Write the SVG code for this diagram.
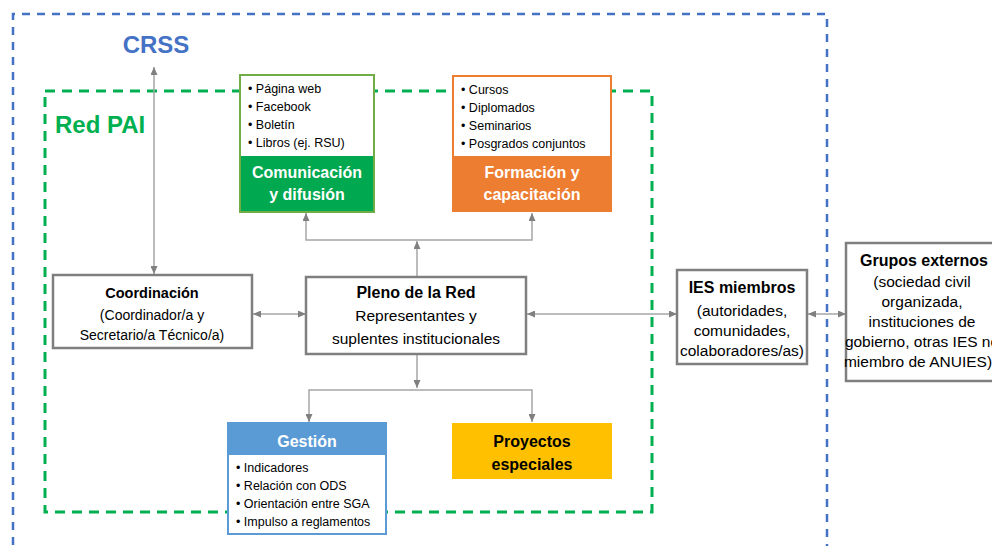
<svg xmlns="http://www.w3.org/2000/svg" width="992" height="546" viewBox="0 0 992 546">
<defs>
<marker id="ah" viewBox="0 0 8 7" refX="8" refY="3.5" markerWidth="8" markerHeight="7" markerUnits="userSpaceOnUse" orient="auto-start-reverse">
<path d="M0,0 L8,3.5 L0,7 z" fill="#808080"/>
</marker>
<style>
text{font-family:"Liberation Sans",Arial,sans-serif;}
.b{font-weight:bold;}
.c{text-anchor:middle;}
.li{font-size:12.5px;fill:#000;}
.gray{fill:#fff;stroke:#7F7F7F;stroke-width:2.5;}
.con{fill:none;stroke:#A6A6A6;stroke-width:1.5;}
.bi{marker-start:url(#ah);marker-end:url(#ah);}
.one{marker-end:url(#ah);}
</style>
</defs>
<rect width="992" height="546" fill="#fff"/>
<g id="crss-frame">
<path d="M13 560 V14 H827 V560" fill="none" stroke="#4472C4" stroke-width="2.5" stroke-dasharray="8,7"/>
<text x="156" y="53" class="b c" font-size="24" fill="#4472C4">CRSS</text>
</g>
<g id="redpai-frame">
<rect x="45" y="91" width="607" height="421" fill="none" stroke="#00B050" stroke-width="3" stroke-dasharray="10,7"/>
<text x="55" y="133" class="b" font-size="24" fill="#00B050">Red PAI</text>
</g>
<g id="connectors">
<line x1="154" y1="67" x2="154" y2="274" class="con bi"/>
<line x1="253" y1="314" x2="306" y2="314" class="con bi"/>
<line x1="527" y1="314" x2="677" y2="314" class="con bi"/>
<line x1="808" y1="314" x2="846" y2="314" class="con bi"/>
<line x1="417" y1="277" x2="417" y2="241" class="con one"/>
<path d="M306 213 V240 H532 V213" class="con bi"/>
<line x1="417" y1="354" x2="417" y2="388" class="con one"/>
<path d="M309 422 V390 H532 V422" class="con bi"/>
</g>
<g id="comunicacion">
<rect x="240" y="75" width="134" height="137" fill="#fff" stroke="#70AD47" stroke-width="2"/>
<rect x="241" y="156" width="132" height="55" fill="#00A84F"/>
<text x="248" y="93" class="li">• Página web</text>
<text x="248" y="111" class="li">• Facebook</text>
<text x="248" y="129" class="li">• Boletín</text>
<text x="248" y="147" class="li">• Libros (ej. RSU)</text>
<text x="307" y="178" class="b c" font-size="16" fill="#fff">Comunicación</text>
<text x="307" y="200" class="b c" font-size="16" fill="#fff">y difusión</text>
</g>
<g id="formacion">
<rect x="453" y="76" width="158" height="135" fill="#fff" stroke="#ED7D31" stroke-width="2"/>
<rect x="453" y="156" width="158" height="55" fill="#ED7D31"/>
<text x="461" y="94" class="li">• Cursos</text>
<text x="461" y="112" class="li">• Diplomados</text>
<text x="461" y="130" class="li">• Seminarios</text>
<text x="461" y="148" class="li">• Posgrados conjuntos</text>
<text x="532" y="178" class="b c" font-size="16" fill="#fff">Formación y</text>
<text x="532" y="200" class="b c" font-size="16" fill="#fff">capacitación</text>
</g>
<g id="coordinacion">
<rect x="53" y="275" width="199" height="73" class="gray"/>
<text x="152" y="298" class="b c" font-size="14.5">Coordinación</text>
<text x="152" y="320" class="c" font-size="14">(Coordinador/a y</text>
<text x="152" y="340" class="c" font-size="14">Secretario/a Técnico/a)</text>
</g>
<g id="pleno">
<rect x="306" y="277" width="220" height="77" class="gray"/>
<text x="416" y="298" class="b c" font-size="16">Pleno de la Red</text>
<text x="416" y="321" class="c" font-size="15.5">Representantes y</text>
<text x="416" y="344" class="c" font-size="15.5">suplentes institucionales</text>
</g>
<g id="ies">
<rect x="677" y="270" width="130" height="94" class="gray"/>
<text x="742" y="293" class="b c" font-size="16">IES miembros</text>
<text x="742" y="316" class="c" font-size="15.5">(autoridades,</text>
<text x="742" y="336" class="c" font-size="15.5">comunidades,</text>
<text x="742" y="356" class="c" font-size="15.5">colaboradores/as)</text>
</g>
<g id="grupos">
<rect x="846" y="243" width="162" height="138" class="gray"/>
<text x="924" y="266" class="b c" font-size="16">Grupos externos</text>
<text x="922" y="287" class="c" font-size="15.5">(sociedad civil</text>
<text x="922" y="307" class="c" font-size="15.5">organizada,</text>
<text x="922" y="327" class="c" font-size="15.5">instituciones de</text>
<text x="922" y="347" class="c" font-size="15.5">gobierno, otras IES no</text>
<text x="918" y="367" class="c" font-size="15.5">miembro de ANUIES)</text>
</g>
<g id="gestion">
<rect x="228" y="423" width="158" height="111" fill="#fff" stroke="#5B9BD5" stroke-width="2"/>
<rect x="228" y="423" width="158" height="32" fill="#5B9BD5"/>
<text x="307" y="447" class="b c" font-size="16" fill="#fff">Gestión</text>
<text x="236" y="472" class="li">• Indicadores</text>
<text x="236" y="490" class="li">• Relación con ODS</text>
<text x="236" y="508" class="li">• Orientación entre SGA</text>
<text x="236" y="526" class="li">• Impulso a reglamentos</text>
</g>
<g id="proyectos">
<rect x="452" y="423" width="160" height="56" fill="#FFC000"/>
<text x="532" y="447" class="b c" font-size="16">Proyectos</text>
<text x="532" y="470" class="b c" font-size="16">especiales</text>
</g>
</svg>
